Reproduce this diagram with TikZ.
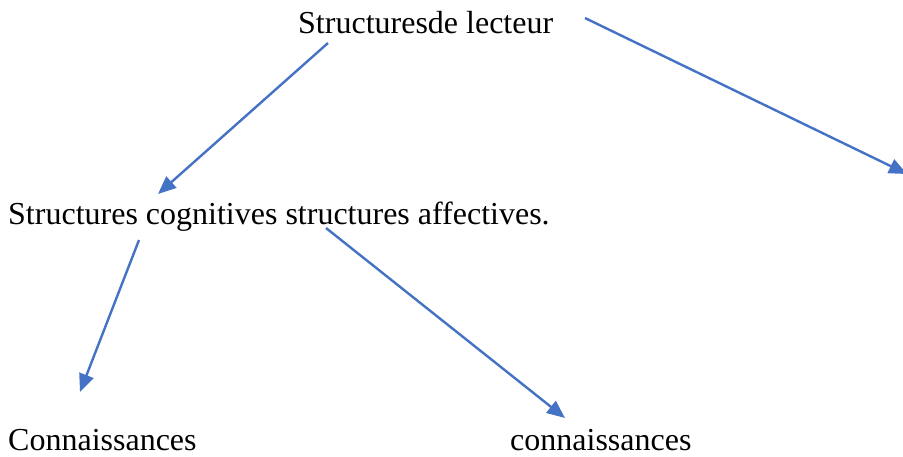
\documentclass[tikz,border=0pt]{standalone}
\usepackage{fontspec}
\setmainfont{Liberation Serif}
\usetikzlibrary{arrows.meta}
\begin{document}
\begin{tikzpicture}[x=1pt,y=-1pt,
  lbl/.style={anchor=base west,inner sep=0pt,font=\fontsize{32}{36}\selectfont},
  conn/.style={draw={rgb,255:red,68;green,114;blue,196},line width=2.4pt,-{Triangle[length=18pt,width=15pt]}}]
\useasboundingbox (0,0) rectangle (903,456);
\node[lbl] (top) at (298,33) {Structuresde lecteur};
\node[lbl] (mid) at (8,224) {Structures cognitives structures affectives.};
\node[lbl] (c1) at (8,450) {Connaissances};
\node[lbl] (c2) at (510,450) {connaissances};
\coordinate (a1s) at (328,43);
\coordinate (a1e) at (158,194);
\coordinate (a2s) at (585,18);
\coordinate (a2e) at (907,174);
\coordinate (a3s) at (139,240);
\coordinate (a3e) at (80,392);
\coordinate (a4s) at (326,228);
\coordinate (a4e) at (565,418);
\draw[conn] (a1s) -- (a1e);
\draw[conn] (a2s) -- (a2e);
\draw[conn] (a3s) -- (a3e);
\draw[conn] (a4s) -- (a4e);
\end{tikzpicture}
\end{document}
